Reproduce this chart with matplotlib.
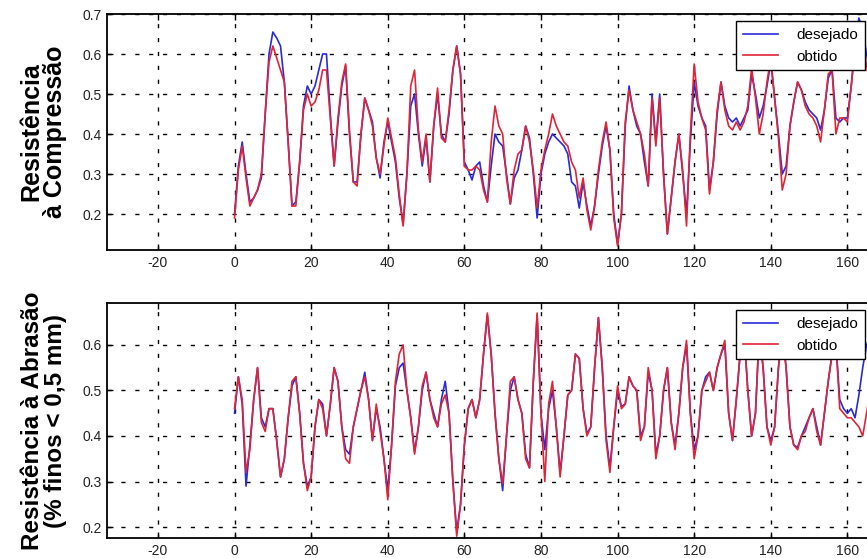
import numpy as np
import matplotlib
matplotlib.use("Agg")
import matplotlib.pyplot as plt
from matplotlib.ticker import FormatStrFormatter

plt.rcParams['font.family'] = ['Liberation Sans', 'DejaVu Sans']
plt.rcParams['axes.unicode_minus'] = False

# sample index (0..166)
x = np.arange(167)

# Resistencia a Compressao
comp_des = [0.20, 0.32, 0.38, 0.30, 0.23, 0.24, 0.26, 0.29, 0.45, 0.60,
            0.655, 0.64, 0.62, 0.53, 0.38, 0.22, 0.23, 0.33, 0.47, 0.52,
            0.50, 0.52, 0.56, 0.60, 0.60, 0.45, 0.32, 0.43, 0.52, 0.57,
            0.40, 0.28, 0.28, 0.40, 0.49, 0.46, 0.43, 0.34, 0.29, 0.38,
            0.43, 0.38, 0.33, 0.24, 0.175, 0.30, 0.47, 0.50, 0.40, 0.32,
            0.39, 0.28, 0.42, 0.50, 0.40, 0.38, 0.45, 0.56, 0.62, 0.55,
            0.33, 0.31, 0.285, 0.32, 0.33, 0.27, 0.23, 0.32, 0.40, 0.38,
            0.37, 0.30, 0.225, 0.29, 0.31, 0.36, 0.42, 0.39, 0.30, 0.19,
            0.30, 0.35, 0.38, 0.40, 0.39, 0.38, 0.37, 0.35, 0.28, 0.27,
            0.215, 0.28, 0.22, 0.17, 0.22, 0.30, 0.37, 0.42, 0.36, 0.20,
            0.125, 0.20, 0.42, 0.52, 0.46, 0.42, 0.40, 0.33, 0.27, 0.50,
            0.38, 0.50, 0.30, 0.15, 0.24, 0.33, 0.40, 0.30, 0.20, 0.38,
            0.53, 0.47, 0.44, 0.42, 0.26, 0.33, 0.45, 0.53, 0.47, 0.44,
            0.43, 0.44, 0.42, 0.44, 0.46, 0.55, 0.50, 0.44, 0.47, 0.52,
            0.58, 0.49, 0.40, 0.30, 0.32, 0.42, 0.48, 0.53, 0.51, 0.48,
            0.46, 0.45, 0.44, 0.41, 0.46, 0.54, 0.56, 0.44, 0.43, 0.44,
            0.44, 0.52, 0.62, 0.69, 0.66, 0.60, 0.55]
comp_obt = [0.19, 0.31, 0.37, 0.29, 0.22, 0.24, 0.26, 0.30, 0.45, 0.58,
            0.62, 0.59, 0.56, 0.53, 0.38, 0.22, 0.22, 0.33, 0.46, 0.50,
            0.47, 0.48, 0.51, 0.56, 0.56, 0.44, 0.32, 0.44, 0.53, 0.575,
            0.41, 0.28, 0.27, 0.40, 0.49, 0.46, 0.42, 0.34, 0.30, 0.37,
            0.44, 0.39, 0.34, 0.25, 0.17, 0.30, 0.52, 0.56, 0.41, 0.33,
            0.40, 0.28, 0.42, 0.515, 0.39, 0.38, 0.46, 0.56, 0.62, 0.55,
            0.32, 0.31, 0.31, 0.32, 0.31, 0.26, 0.23, 0.38, 0.47, 0.42,
            0.40, 0.29, 0.225, 0.31, 0.35, 0.36, 0.42, 0.38, 0.31, 0.215,
            0.31, 0.36, 0.40, 0.45, 0.42, 0.40, 0.38, 0.37, 0.33, 0.31,
            0.24, 0.29, 0.21, 0.16, 0.22, 0.31, 0.38, 0.43, 0.36, 0.19,
            0.12, 0.20, 0.43, 0.51, 0.46, 0.43, 0.40, 0.35, 0.27, 0.49,
            0.37, 0.49, 0.30, 0.15, 0.24, 0.33, 0.40, 0.31, 0.17, 0.40,
            0.575, 0.48, 0.44, 0.41, 0.25, 0.33, 0.46, 0.53, 0.46, 0.42,
            0.41, 0.43, 0.41, 0.43, 0.47, 0.565, 0.49, 0.40, 0.45, 0.53,
            0.59, 0.49, 0.39, 0.26, 0.30, 0.42, 0.48, 0.53, 0.51, 0.47,
            0.45, 0.44, 0.42, 0.38, 0.46, 0.55, 0.56, 0.40, 0.44, 0.44,
            0.43, 0.52, 0.62, 0.68, 0.64, 0.57, 0.52]

# Resistencia a Abrasao
abr_des = [0.45, 0.53, 0.47, 0.29, 0.38, 0.48, 0.55, 0.44, 0.42, 0.46,
           0.46, 0.39, 0.31, 0.35, 0.44, 0.51, 0.53, 0.45, 0.34, 0.29,
           0.31, 0.42, 0.48, 0.47, 0.40, 0.47, 0.55, 0.52, 0.42, 0.37,
           0.36, 0.42, 0.46, 0.50, 0.54, 0.48, 0.39, 0.46, 0.42, 0.35,
           0.28, 0.38, 0.51, 0.55, 0.56, 0.50, 0.44, 0.365, 0.42, 0.50,
           0.54, 0.48, 0.45, 0.42, 0.48, 0.52, 0.45, 0.30, 0.19, 0.25,
           0.38, 0.46, 0.48, 0.44, 0.48, 0.58, 0.665, 0.58, 0.45, 0.35,
           0.28, 0.40, 0.50, 0.53, 0.48, 0.45, 0.36, 0.33, 0.52, 0.665,
           0.45, 0.37, 0.46, 0.50, 0.42, 0.32, 0.40, 0.49, 0.50, 0.58,
           0.57, 0.46, 0.405, 0.42, 0.55, 0.66, 0.55, 0.40, 0.33, 0.42,
           0.50, 0.465, 0.47, 0.53, 0.51, 0.50, 0.40, 0.42, 0.54, 0.50,
           0.36, 0.40, 0.50, 0.55, 0.43, 0.38, 0.45, 0.55, 0.60, 0.45,
           0.37, 0.40, 0.50, 0.53, 0.54, 0.50, 0.55, 0.58, 0.60, 0.45,
           0.39, 0.48, 0.58, 0.63, 0.50, 0.40, 0.45, 0.63, 0.55, 0.42,
           0.39, 0.42, 0.55, 0.63, 0.55, 0.42, 0.38, 0.375, 0.40, 0.42,
           0.44, 0.46, 0.42, 0.38, 0.45, 0.52, 0.58, 0.60, 0.48, 0.46,
           0.45, 0.46, 0.44, 0.49, 0.55, 0.60, 0.62]
abr_obt = [0.46, 0.53, 0.48, 0.32, 0.37, 0.48, 0.55, 0.43, 0.41, 0.46,
           0.46, 0.39, 0.31, 0.35, 0.44, 0.52, 0.53, 0.45, 0.34, 0.28,
           0.31, 0.42, 0.48, 0.46, 0.40, 0.47, 0.55, 0.52, 0.42, 0.35,
           0.34, 0.42, 0.46, 0.50, 0.53, 0.48, 0.39, 0.47, 0.41, 0.35,
           0.26, 0.38, 0.52, 0.58, 0.60, 0.50, 0.44, 0.36, 0.42, 0.51,
           0.54, 0.48, 0.44, 0.42, 0.47, 0.49, 0.45, 0.30, 0.18, 0.25,
           0.38, 0.46, 0.48, 0.44, 0.48, 0.58, 0.67, 0.58, 0.45, 0.35,
           0.295, 0.40, 0.52, 0.53, 0.48, 0.45, 0.35, 0.33, 0.52, 0.67,
           0.45, 0.30, 0.47, 0.52, 0.42, 0.31, 0.40, 0.49, 0.50, 0.58,
           0.57, 0.46, 0.40, 0.42, 0.55, 0.66, 0.55, 0.39, 0.32, 0.42,
           0.51, 0.46, 0.47, 0.53, 0.51, 0.50, 0.39, 0.42, 0.55, 0.50,
           0.35, 0.40, 0.50, 0.55, 0.43, 0.37, 0.45, 0.55, 0.61, 0.45,
           0.35, 0.40, 0.50, 0.52, 0.54, 0.50, 0.55, 0.58, 0.61, 0.45,
           0.39, 0.48, 0.58, 0.63, 0.50, 0.40, 0.45, 0.63, 0.55, 0.42,
           0.38, 0.42, 0.55, 0.63, 0.55, 0.42, 0.38, 0.37, 0.40, 0.41,
           0.44, 0.46, 0.41, 0.38, 0.45, 0.52, 0.58, 0.61, 0.46, 0.45,
           0.44, 0.44, 0.43, 0.42, 0.40, 0.45, 0.50]

xticks = list(range(-20, 200, 20))
fig = plt.figure(figsize=(8.67, 5.58), dpi=100)

W, H = 867.0, 558.0
# axes run past the right edge of the picture (the original was cropped)
ax1 = fig.add_axes([107 / W, 1 - 250 / H, 817 / W, 236 / H])
ax2 = fig.add_axes([107 / W, 1 - 538 / H, 817 / W, 235 / H])


def style(ax, ylim, yticks):
    ax.set_xlim(-33.3, 180)
    ax.set_ylim(*ylim)
    ax.set_xticks(xticks)
    ax.set_yticks(yticks)
    ax.yaxis.set_major_formatter(FormatStrFormatter('%.1f'))
    ax.grid(True, color='black', linestyle=(0, (3, 7)), linewidth=1.0)
    ax.tick_params(direction='in', length=4, width=1, labelsize=10,
                   pad=4, top=True, right=True, labelcolor='#222222')
    for s in ax.spines.values():
        s.set_linewidth(1.3)


style(ax1, (0.11, 0.7), [0.2, 0.3, 0.4, 0.5, 0.6, 0.7])
style(ax2, (0.176, 0.692), [0.2, 0.3, 0.4, 0.5, 0.6])

ax1.plot(x, comp_des, color='#2a2ad8', lw=1.2, label='desejado')
ax1.plot(x, comp_obt, color='#e02438', lw=1.2, label='obtido')
ax2.plot(x, abr_des, color='#2a2ad8', lw=1.2, label='desejado')
ax2.plot(x, abr_obt, color='#e02438', lw=1.2, label='obtido')

ax1.set_ylabel('Resistência\nà Compressão', fontsize=18, fontweight='bold',
               linespacing=1.0)
ax2.set_ylabel('Resistência à Abrasão\n(% finos < 0,5 mm)', fontsize=17.5,
               fontweight='bold', linespacing=1.0)
ax1.yaxis.set_label_coords(-0.049, 0.5)
ax2.yaxis.set_label_coords(-0.049, 0.5)

for ax, top in ((ax1, 21), (ax2, 310)):
    leg = ax.legend(loc='upper right', bbox_to_anchor=(865 / W, 1 - top / H),
                    bbox_transform=fig.transFigure, fontsize=11,
                    frameon=True, fancybox=False, framealpha=1,
                    borderpad=0.45, labelspacing=0.5, handlelength=2.3,
                    handletextpad=1.2, borderaxespad=0)
    leg.get_frame().set_edgecolor('black')
    leg.get_frame().set_linewidth(1.0)

fig.savefig('out.png', dpi=100)
